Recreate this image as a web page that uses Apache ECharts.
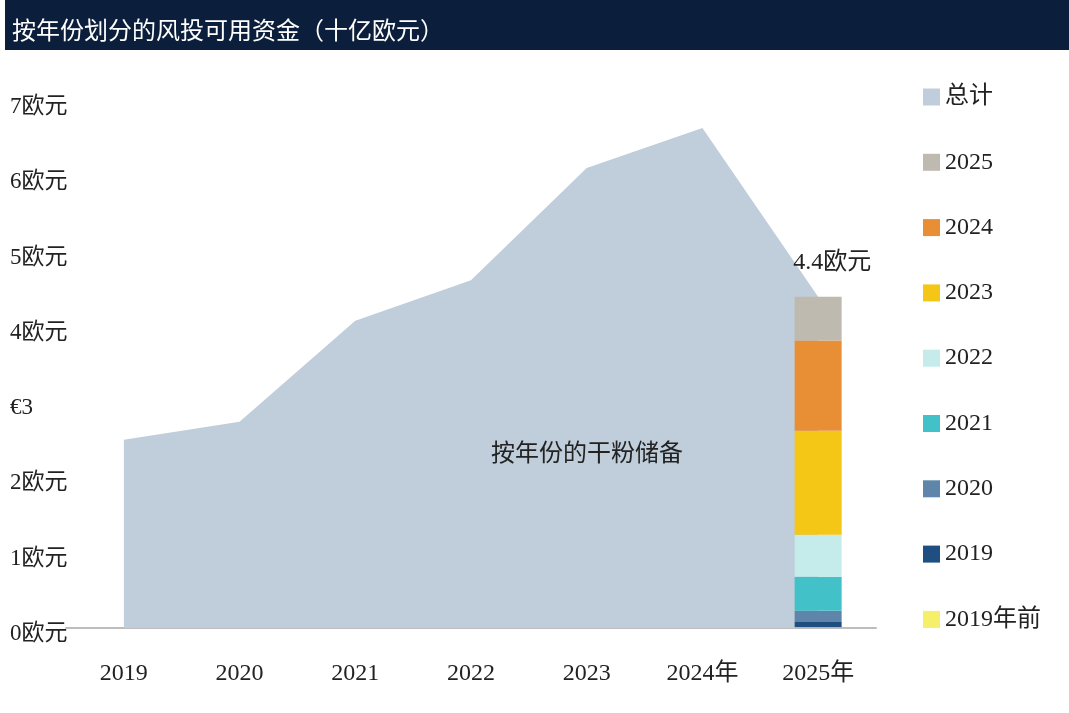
<!DOCTYPE html>
<html>
<head>
<meta charset="utf-8">
<script src="https://cdn.jsdelivr.net/npm/echarts@6/dist/echarts.min.js"></script>
<style>
  html, body { margin: 0; padding: 0; background: #fff; }
  #chart { width: 1069px; height: 713px; }
</style>
</head>
<body>
<div id="chart"></div>
<script>
// 数据
const years = ['2019', '2020', '2021', '2022', '2023', '2024年', '2025年'];
const totals = [2.5, 2.74, 4.08, 4.62, 6.11, 6.64, 4.4];
// 2025年各年份募资的剩余资金（由下到上）
const vintageNames = ['2019年前', '2019', '2020', '2021', '2022', '2023', '2024', '2025'];
const vintageValues = [0.01, 0.07, 0.15, 0.45, 0.56, 1.38, 1.2, 0.58];
const vintageColors = ['#f5ef6a', '#1f4e80', '#5f86aa', '#42c2c8', '#c5ebea', '#f4c616', '#e88f36', '#bfbab0'];
const yTicks = [0, 1, 2, 3, 4, 5, 6, 7];

const serif = '"Liberation Serif", "Noto Sans CJK SC", serif';

const chartDom = document.getElementById('chart');
const chartIns = echarts.init(chartDom, null, {renderer: 'canvas'});

const lastIdx = years.length - 1;

const barSeries = vintageNames.map((name, i) => ({
  name,
  type: 'bar',
  stack: 'vintage',
  barWidth: 47,
  z: 3,
  itemStyle: {color: vintageColors[i]},
  label: i === vintageNames.length - 1 ? {
    show: true,
    position: 'top',
    distance: 22,
    offset: [14, 0],
    formatter: () => totals[lastIdx] + '欧元',
    fontFamily: serif,
    fontSize: 24,
    color: '#222',
  } : {show: false},
  data: years.map((y, k) => (k === lastIdx ? vintageValues[i] : null)),
}));

const options = {
  backgroundColor: '#fff',
  animation: false,
  title: {
    text: '按年份划分的风投可用资金（十亿欧元）',
    left: 7,
    top: 13,
    textStyle: {
      color: '#fff',
      fontFamily: '"Noto Sans CJK SC", sans-serif',
      fontWeight: 'normal',
      fontSize: 24,
    },
  },
  graphic: [
    {
      type: 'rect',
      left: 5,
      top: 0,
      z: -1,
      shape: {width: 1064, height: 50},
      style: {fill: '#0b1e3b'},
    },
    {
      type: 'text',
      left: 491,
      top: 440,
      style: {
        text: '按年份的干粉储备',
        font: '24px "Noto Sans CJK SC", sans-serif',
        fill: '#222',
      },
      z: 10,
    },
  ],
  legend: {
    orient: 'vertical',
    left: 918,
    top: 80,
    itemGap: 41.3,
    itemWidth: 17,
    itemHeight: 17,
    icon: 'rect',
    data: ['总计', '2025', '2024', '2023', '2022', '2021', '2020', '2019', '2019年前'],
    textStyle: {
      fontFamily: serif,
      fontSize: 24,
      color: '#222',
      padding: [6, 0, 0, 0],
    },
  },
  grid: {
    left: 66,
    right: 193,
    top: 101,
    bottom: 85,
    containLabel: false,
  },
  xAxis: {
    type: 'category',
    data: years,
    boundaryGap: true,
    axisLine: {show: true, lineStyle: {color: '#bdbdbd', width: 2}},
    axisTick: {show: false},
    axisLabel: {
      margin: 34,
      fontFamily: serif,
      fontSize: 24,
      color: '#222',
    },
    splitLine: {show: false},
  },
  yAxis: {
    type: 'value',
    min: yTicks[0],
    max: yTicks[yTicks.length - 1],
    interval: 1,
    axisLine: {show: false},
    axisTick: {show: false},
    splitLine: {show: false},
    axisLabel: {
      align: 'left',
      verticalAlign: 'top',
      lineHeight: 12,
      margin: 56,
      fontFamily: serif,
      fontSize: 23,
      color: '#222',
      formatter: (v) => (v === 3 ? '€3' : v + '欧元'),
    },
  },
  series: [
    {
      name: '总计',
      type: 'line',
      data: totals,
      symbol: 'none',
      z: 1,
      itemStyle: {color: '#bfceda'},
      lineStyle: {width: 0, color: '#bfceda'},
      areaStyle: {color: '#bfceda', opacity: 1},
    },
    ...barSeries,
  ],
};

chartIns.setOption(options);
window.addEventListener('resize', chartIns.resize);
</script>
</body>
</html>
